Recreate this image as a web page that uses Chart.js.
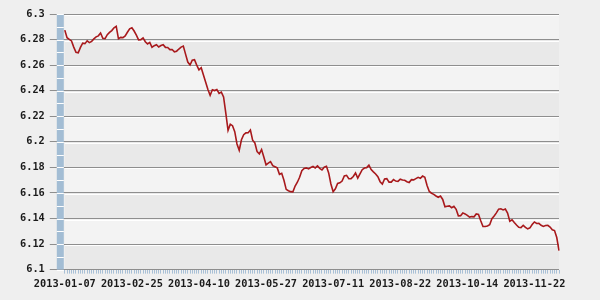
<!DOCTYPE html>
<html>
<head>
<meta charset="utf-8">
<script src="https://cdn.jsdelivr.net/npm/chart.js@4"></script>
<style>
  html, body { margin: 0; padding: 0; background: #efefef; }
  #wrap { position: relative; width: 600px; height: 300px; }
</style>
</head>
<body>
<div id="wrap"><canvas id="c"></canvas></div>
<script>
// 2013 daily rate, one value per trading day
const rates = [
  6.2874, 6.2815, 6.2802, 6.2789, 6.2741, 6.2700, 6.2697, 6.2739, 6.2772, 6.2768,
  6.2790, 6.2776, 6.2786, 6.2805, 6.2821, 6.2829, 6.2851, 6.2810, 6.2808, 6.2838,
  6.2856, 6.2870, 6.2892, 6.2903, 6.2806, 6.2817, 6.2815, 6.2829, 6.2857, 6.2884,
  6.2892, 6.2867, 6.2835, 6.2798, 6.2799, 6.2813, 6.2783, 6.2766, 6.2778, 6.2740,
  6.2752, 6.2760, 6.2742, 6.2753, 6.2760, 6.2739, 6.2738, 6.2721, 6.2722, 6.2704,
  6.2709, 6.2726, 6.2741, 6.2749, 6.2686, 6.2624, 6.2601, 6.2638, 6.2643, 6.2600,
  6.2563, 6.2580, 6.2522, 6.2466, 6.2410, 6.2364, 6.2407, 6.2401, 6.2409, 6.2379,
  6.2389, 6.2351, 6.2225, 6.2090, 6.2138, 6.2126, 6.2080, 6.1983, 6.1934, 6.2016,
  6.2056, 6.2070, 6.2071, 6.2092, 6.2013, 6.1991, 6.1923, 6.1905, 6.1939, 6.1881,
  6.1820, 6.1833, 6.1845, 6.1813, 6.1805, 6.1796, 6.1746, 6.1754, 6.1699, 6.1628,
  6.1617, 6.1610, 6.1609, 6.1654, 6.1684, 6.1723, 6.1774, 6.1791, 6.1796, 6.1788,
  6.1799, 6.1807, 6.1796, 6.1811, 6.1792, 6.1780, 6.1802, 6.1808, 6.1757, 6.1670,
  6.1609, 6.1632, 6.1674, 6.1679, 6.1693, 6.1733, 6.1738, 6.1711, 6.1712, 6.1729,
  6.1756, 6.1716, 6.1749, 6.1782, 6.1795, 6.1798, 6.1817, 6.1783, 6.1765, 6.1748,
  6.1727, 6.1688, 6.1670, 6.1709, 6.1712, 6.1685, 6.1685, 6.1705, 6.1693, 6.1691,
  6.1708, 6.1701, 6.1699, 6.1688, 6.1681, 6.1704, 6.1702, 6.1712, 6.1722, 6.1715,
  6.1732, 6.1723, 6.1659, 6.1612, 6.1598, 6.1589, 6.1576, 6.1566, 6.1575, 6.1549,
  6.1492, 6.1496, 6.1499, 6.1485, 6.1496, 6.1472, 6.1421, 6.1422, 6.1444, 6.1436,
  6.1424, 6.1411, 6.1415, 6.1413, 6.1436, 6.1432, 6.1383, 6.1338, 6.1338, 6.1342,
  6.1351, 6.1398, 6.1420, 6.1444, 6.1473, 6.1476, 6.1467, 6.1474, 6.1442, 6.1379,
  6.1390, 6.1368, 6.1349, 6.1331, 6.1329, 6.1347, 6.1331, 6.1319, 6.1327, 6.1353,
  6.1373, 6.1361, 6.1362, 6.1347, 6.1338, 6.1345, 6.1347, 6.1333, 6.1312, 6.1306,
  6.1251, 6.1148
];

// x labels, one every 30 points
const tickDates = [
  "2013-01-07", "2013-02-25", "2013-04-10", "2013-05-27",
  "2013-07-11", "2013-08-22", "2013-10-14", "2013-11-22"
];
const tickEvery = 30;

const yMin = 6.1, yMax = 6.3, yStep = 0.02;

const labels = rates.map((_, i) => (i % tickEvery === 0 ? tickDates[i / tickEvery] || "" : ""));

// bands, gridline highlight and the blue strip on the left
const backdrop = {
  id: "backdrop",
  beforeDraw(chart) {
    const { ctx, chartArea: a, scales: { y } } = chart;
    const ticks = y.ticks.map((t) => t.value).sort((p, q) => q - p);
    ctx.save();
    for (let i = 0; i < ticks.length - 1; i++) {
      const y0 = y.getPixelForValue(ticks[i]);
      const y1 = y.getPixelForValue(ticks[i + 1]);
      ctx.fillStyle = i % 2 === 0 ? "#f3f3f3" : "#e9e9e9";
      ctx.fillRect(a.left, y0, a.right - a.left, y1 - y0);
    }
    ctx.restore();
  },
  beforeDatasetsDraw(chart) {
    const { ctx, chartArea: a, scales: { y } } = chart;
    ctx.save();
    ctx.strokeStyle = "#ffffff";
    ctx.lineWidth = 1;
    y.ticks.forEach((t) => {
      const py = Math.round(y.getPixelForValue(t.value)) + 1.5;
      if (py > a.bottom) return;
      ctx.beginPath();
      ctx.moveTo(a.left, py);
      ctx.lineTo(a.right, py);
      ctx.stroke();
    });
    // left strip
    ctx.fillStyle = "#a3bdd4";
    ctx.fillRect(a.left - 8, a.top, 7, a.bottom - a.top);
    for (let v = yMin; v <= yMax + 1e-9; v += yStep / 2) {
      const py = Math.round(y.getPixelForValue(v)) + 0.5;
      ctx.beginPath();
      ctx.moveTo(a.left - 8, py);
      ctx.lineTo(a.left - 1, py);
      ctx.stroke();
    }
    ctx.restore();
  },
};

Chart.defaults.font.family = "'DejaVu Sans Mono', monospace";
Chart.defaults.font.size = 10.3;
Chart.defaults.font.weight = "bold";
Chart.defaults.color = "#1a1a1a";

new Chart(document.getElementById("c"), {
  type: "line",
  data: {
    labels: labels,
    datasets: [{
      data: rates,
      borderColor: "#a8191c",
      borderWidth: 1.6,
      pointRadius: 0,
      tension: 0,
      fill: false,
    }],
  },
  options: {
    responsive: true,
    maintainAspectRatio: false,
    animation: false,
    layout: { padding: { left: 15, right: 41, top: 14, bottom: 4 } },
    plugins: { legend: { display: false }, tooltip: { enabled: false } },
    scales: {
      x: {
        offset: false,
        border: { display: false },
        grid: { drawOnChartArea: false, drawTicks: true, tickLength: 4, color: "#a9c0d6" },
        ticks: { autoSkip: false, maxRotation: 0, minRotation: 0, padding: 5 },
      },
      y: {
        min: yMin,
        max: yMax,
        border: { display: false },
        grid: { color: "#8e8e8e", tickLength: 15 },
        ticks: {
          stepSize: yStep,
          padding: 5,
          callback: (v) => String(+v.toFixed(2)),
        },
      },
    },
  },
  plugins: [backdrop],
});
</script>
</body>
</html>
